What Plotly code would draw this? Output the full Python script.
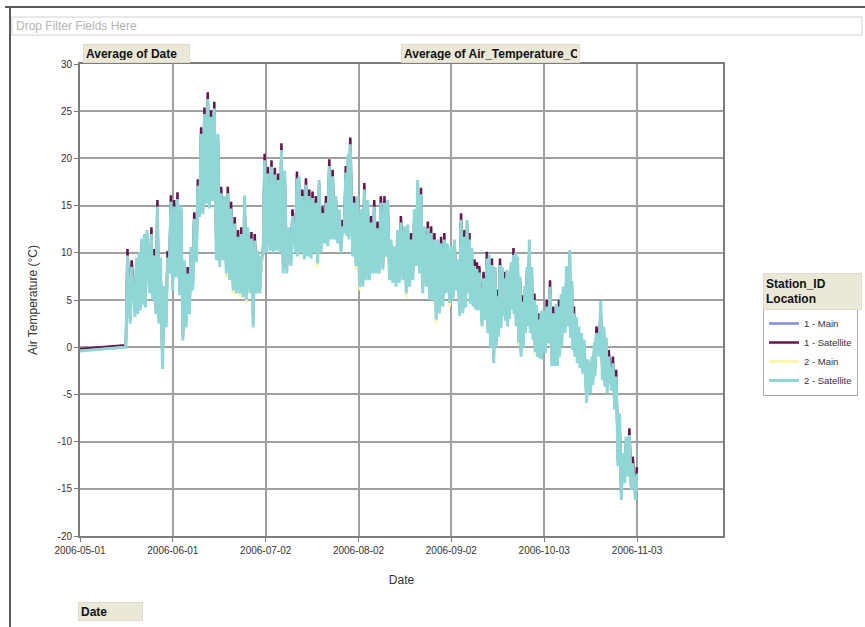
import pandas as pd
import plotly.graph_objects as go

# ---------------------------------------------------------------------------
# Air temperature, stations 1 and 2 (Main / Satellite), summer-autumn 2006.
# Each record holds the daily low and the daily high; records are placed by
# elapsed days since 2006-05-01.
# ---------------------------------------------------------------------------
START = pd.Timestamp("2006-05-01")

# single early reading on 2006-05-01 and the one just before logging resumed
lead_days = [0.0, 15.2]
lead_main1 = [-0.3, 0.0]
lead_sat1 = [-0.2, 0.2]
lead_main2 = [-0.4, 0.0]
lead_sat2 = [-0.4, 0.0]

elapsed_days = [
    15.6, 17.0, 18.6, 19.5, 20.4, 21.3, 22.1, 23.6, 24.5, 25.6,
    26.6, 27.8, 29.0, 30.1, 31.2, 32.3, 33.5, 34.6, 35.7, 36.8,
    37.9, 39.1, 40.2, 41.3, 42.4, 43.5, 44.6, 45.8, 46.9, 48.0,
    49.1, 50.2, 51.4, 52.5, 53.6, 54.7, 55.8, 57.0, 58.1, 59.2,
    60.3, 61.4, 62.5, 63.7, 64.8, 65.9, 67.0, 68.1, 69.3, 70.7,
    72.2, 72.9, 74.0, 75.2, 76.3, 77.4, 78.5, 79.6, 80.7, 81.9,
    83.0, 84.1, 85.2, 86.3, 87.4, 88.5, 89.3, 90.0, 91.3, 92.4,
    93.6, 94.7, 95.8, 96.9, 98.0, 99.1, 100.2, 101.4, 102.5, 103.6,
    104.7, 105.8, 106.9, 108.1, 109.2, 110.3, 111.4, 112.5, 113.6, 114.7,
    115.9, 117.0, 118.1, 119.2, 120.3, 121.4, 122.5, 123.7, 124.8, 125.9,
    127.0, 128.1, 129.0, 129.8, 130.6, 131.5, 132.3, 133.1, 134.5, 135.6,
    136.4, 137.3, 138.4, 139.2, 140.0, 140.8, 141.5, 142.3, 143.0, 143.7,
    144.5, 145.2, 145.9, 146.7, 147.5, 148.3, 149.0, 149.8, 150.6, 151.5,
    152.2, 153.0, 153.7, 154.4, 155.6, 156.7, 157.8, 158.8, 159.7, 160.4,
    161.1, 162.2, 163.3, 164.0, 164.7, 165.5, 166.3, 167.2, 168.1, 169.4,
    170.7, 171.5, 172.2, 173.6, 174.7, 175.5, 176.3, 177.7, 178.8, 179.9,
    181.0, 182.1, 183.2, 184.3, 185.7,
]

# 1 - Main
main1_hi = [
    9.4, 8.2, 8.5, 9.0, 10.5, 11.0, 11.4, 11.7, 9.4, 14.6,
    8.5, 5.5, 9.2, 15.1, 14.6, 15.4, 14.0, 8.2, 7.5, 9.6,
    13.3, 16.8, 22.3, 24.4, 26.0, 24.1, 25.0, 21.6, 16.0, 15.0,
    16.0, 14.4, 12.8, 11.4, 11.7, 15.1, 11.7, 11.2, 11.0, 9.2,
    8.5, 19.5, 18.1, 18.8, 18.0, 17.4, 20.6, 17.7, 11.7, 13.6,
    17.6, 17.1, 15.7, 16.9, 15.7, 15.5, 15.0, 16.7, 13.9, 15.0,
    18.9, 17.8, 15.0, 13.6, 12.5, 18.2, 19.5, 21.2, 15.0, 15.0,
    13.6, 16.4, 14.6, 12.9, 14.6, 12.3, 15.0, 15.0, 14.6, 10.4,
    9.7, 11.4, 12.9, 11.8, 12.0, 11.1, 13.6, 16.7, 15.9, 11.8,
    12.3, 11.8, 11.1, 10.4, 10.7, 11.1, 10.0, 9.7, 10.4, 8.3,
    13.2, 11.4, 12.5, 11.1, 9.5, 8.3, 8.0, 7.6, 7.0, 9.1,
    8.8, 8.4, 7.5, 5.1, 8.4, 7.5, 7.0, 7.2, 7.0, 8.0,
    9.5, 9.0, 8.6, 6.5, 4.5, 5.5, 7.5, 10.4, 7.5, 4.7,
    3.5, 2.6, 2.8, 3.0, 4.0, 6.1, 3.3, 3.6, 4.0, 4.6,
    5.4, 7.6, 9.3, 6.0, 3.3, 2.2, 1.2, 0.5, -0.2, -2.3,
    -2.0, -0.5, 1.2, 3.9, 1.2, 0.0, -1.3, -2.0, -3.4, -8.0,
    -12.2, -10.5, -9.6, -12.6, -13.7,
]
main1_lo = [
    1.0, 3.3, 4.0, 4.3, 4.7, 5.3, 5.0, 6.5, 5.8, 4.3,
    3.3, -1.5, 2.9, 8.6, 6.8, 8.2, 6.3, 1.5, 2.9, 4.3,
    6.8, 9.8, 14.6, 14.9, 16.0, 15.5, 16.3, 10.0, 9.3, 10.0,
    8.6, 7.9, 6.8, 6.5, 6.5, 6.1, 5.8, 6.5, 2.9, 6.5,
    6.5, 10.7, 10.8, 11.0, 10.8, 11.0, 10.8, 8.6, 8.6, 9.4,
    10.8, 10.4, 10.8, 10.1, 10.4, 10.2, 10.8, 9.7, 10.8, 11.8,
    11.5, 12.2, 12.2, 11.8, 10.8, 12.9, 12.6, 12.2, 10.4, 9.4,
    7.2, 7.2, 7.9, 7.9, 8.6, 8.6, 8.6, 9.0, 10.4, 7.9,
    7.6, 7.2, 7.6, 7.9, 6.5, 7.2, 7.9, 9.4, 8.6, 6.5,
    7.2, 5.8, 5.8, 3.7, 4.4, 5.1, 6.5, 5.5, 5.8, 6.8,
    4.1, 4.4, 5.0, 6.5, 5.4, 5.1, 4.8, 4.7, 3.0, 3.7,
    2.3, 0.8, -0.9, 0.8, 1.9, 2.8, 4.1, 3.6, 3.0, 3.8,
    4.8, 4.3, 3.0, 1.3, -0.2, 0.8, 2.3, 3.0, 2.3, 1.6,
    0.3, -0.2, -0.4, -0.5, 0.2, 1.2, -1.2, -1.2, -1.2, -0.2,
    0.9, 2.3, 3.0, 1.8, 0.5, -0.2, -0.9, -1.4, -2.0, -5.1,
    -4.1, -3.2, -2.3, -0.2, -2.7, -3.4, -4.1, -3.8, -5.8, -11.8,
    -15.4, -13.6, -12.9, -14.3, -15.4,
]

# 1 - Satellite
sat1_hi = [
    10.4, 9.2, 9.0, 9.5, 11.0, 11.5, 11.9, 12.7, 10.4, 15.6,
    9.0, 6.0, 10.2, 16.1, 15.6, 16.4, 14.5, 8.7, 8.5, 10.1,
    14.3, 17.8, 23.3, 25.4, 27.0, 25.1, 26.0, 22.1, 17.0, 15.5,
    17.0, 15.4, 13.8, 12.4, 12.7, 15.6, 12.2, 12.2, 12.0, 9.7,
    9.0, 20.5, 19.1, 19.8, 19.0, 18.4, 21.6, 18.2, 12.2, 14.6,
    18.6, 17.6, 16.7, 17.9, 16.7, 16.5, 16.0, 17.2, 14.9, 16.0,
    19.9, 18.8, 15.5, 14.1, 13.5, 19.2, 20.0, 22.2, 16.0, 15.5,
    14.1, 17.4, 15.1, 13.9, 15.6, 13.3, 16.0, 16.0, 15.1, 10.9,
    10.2, 11.9, 13.9, 12.3, 12.5, 12.1, 14.1, 17.2, 16.9, 12.3,
    13.3, 12.8, 12.1, 10.9, 11.7, 12.1, 10.5, 10.2, 10.9, 8.8,
    14.2, 12.4, 13.0, 12.1, 10.0, 9.3, 9.0, 8.6, 8.0, 10.1,
    9.3, 9.4, 8.0, 6.1, 9.4, 8.0, 8.0, 7.7, 7.5, 8.5,
    10.5, 9.5, 9.1, 7.0, 5.5, 6.0, 8.0, 10.9, 8.0, 5.7,
    4.0, 3.6, 3.3, 3.5, 5.0, 7.1, 4.3, 4.1, 5.0, 5.1,
    5.9, 8.1, 9.8, 6.5, 4.3, 2.7, 1.7, 1.0, 0.3, -1.8,
    -1.5, 0.0, 2.2, 4.4, 1.7, 0.5, -0.3, -1.0, -2.4, -7.5,
    -11.7, -10.0, -8.6, -11.6, -12.7,
]
sat1_lo = [
    0.7, 3.0, 3.7, 4.0, 4.4, 5.0, 4.7, 6.2, 5.5, 4.0,
    3.0, -1.8, 2.6, 8.3, 6.5, 7.9, 6.0, 1.2, 2.6, 4.0,
    6.5, 9.5, 14.3, 14.6, 15.7, 15.2, 16.0, 9.7, 9.0, 9.7,
    8.3, 7.6, 6.5, 6.2, 6.2, 5.8, 5.5, 6.2, 2.6, 6.2,
    6.2, 10.4, 10.5, 10.7, 10.5, 10.7, 10.5, 8.3, 8.3, 9.1,
    10.5, 10.1, 10.5, 9.8, 10.1, 9.9, 10.5, 9.4, 10.5, 11.5,
    11.2, 11.9, 11.9, 11.5, 10.5, 12.6, 12.3, 11.9, 10.1, 9.1,
    6.9, 6.9, 7.6, 7.6, 8.3, 8.3, 8.3, 8.7, 10.1, 7.6,
    7.3, 6.9, 7.3, 7.6, 6.2, 6.9, 7.6, 9.1, 8.3, 6.2,
    6.9, 5.5, 5.5, 3.4, 4.1, 4.8, 6.2, 5.2, 5.5, 6.5,
    3.8, 4.1, 4.7, 6.2, 5.1, 4.8, 4.5, 4.4, 2.7, 3.4,
    2.0, 0.5, -1.2, 0.5, 1.6, 2.5, 3.8, 3.3, 2.7, 3.5,
    4.5, 4.0, 2.7, 1.0, -0.5, 0.5, 2.0, 2.7, 2.0, 1.3,
    0.0, -0.5, -0.7, -0.8, -0.1, 0.9, -1.5, -1.5, -1.5, -0.5,
    0.6, 2.0, 2.7, 1.5, 0.2, -0.5, -1.2, -1.7, -2.3, -5.4,
    -4.4, -3.5, -2.6, -0.5, -3.0, -3.7, -4.4, -4.1, -6.1, -12.1,
    -15.7, -13.9, -13.2, -14.6, -15.7,
]

# 2 - Main
main2_hi = [
    8.9, 7.7, 8.0, 8.5, 10.0, 10.5, 10.9, 11.2, 8.9, 14.1,
    8.0, 5.0, 8.7, 14.6, 14.1, 14.9, 13.5, 7.7, 7.0, 9.1,
    12.8, 16.3, 21.8, 23.9, 25.5, 23.6, 24.5, 21.1, 15.5, 14.5,
    15.5, 13.9, 12.3, 10.9, 11.2, 14.6, 11.2, 10.7, 10.5, 8.7,
    8.0, 19.0, 17.6, 18.3, 17.5, 16.9, 20.1, 17.2, 11.2, 13.1,
    17.1, 16.6, 15.2, 16.4, 15.2, 15.0, 14.5, 16.2, 13.4, 14.5,
    18.4, 17.3, 14.5, 13.1, 12.0, 17.7, 19.0, 20.7, 14.5, 14.5,
    13.1, 15.9, 14.1, 12.4, 14.1, 11.8, 14.5, 14.5, 14.1, 9.9,
    9.2, 10.9, 12.4, 11.3, 11.5, 10.6, 13.1, 16.2, 15.4, 11.3,
    11.8, 11.3, 10.6, 9.9, 10.2, 10.6, 9.5, 9.2, 9.9, 7.8,
    12.7, 10.9, 12.0, 10.6, 9.0, 7.8, 7.5, 7.1, 6.5, 8.6,
    8.3, 7.9, 7.0, 4.6, 7.9, 7.0, 6.5, 6.7, 6.5, 7.5,
    9.0, 8.5, 8.1, 6.0, 4.0, 5.0, 7.0, 9.9, 7.0, 4.2,
    3.0, 2.1, 2.3, 2.5, 3.5, 5.6, 2.8, 3.1, 3.5, 4.1,
    4.9, 7.1, 8.8, 5.5, 2.8, 1.7, 0.7, 0.0, -0.7, -2.8,
    -2.5, -1.0, 0.7, 3.4, 0.7, -0.5, -1.8, -2.5, -3.9, -8.5,
    -12.7, -11.0, -10.1, -13.1, -14.2,
]
main2_lo = [
    0.8, 3.1, 3.8, 4.1, 4.5, 5.1, 4.8, 6.3, 5.6, 4.1,
    3.1, -1.7, 2.7, 8.4, 6.6, 8.0, 6.1, 1.3, 2.7, 4.1,
    6.6, 9.6, 14.4, 14.7, 15.8, 15.3, 16.1, 9.8, 9.1, 9.8,
    7.4, 7.7, 5.6, 6.3, 5.3, 5.9, 4.6, 6.3, 2.7, 6.3,
    6.3, 10.5, 10.6, 10.8, 10.6, 10.8, 10.6, 8.4, 8.4, 9.2,
    10.6, 10.2, 10.6, 9.9, 10.2, 10.0, 10.6, 8.5, 10.6, 11.6,
    11.3, 12.0, 12.0, 11.6, 10.6, 12.7, 12.4, 12.0, 10.2, 8.2,
    6.0, 7.0, 7.7, 7.7, 8.4, 8.4, 8.4, 8.8, 10.2, 7.7,
    7.4, 7.0, 7.4, 7.7, 5.3, 7.0, 7.7, 9.2, 8.4, 6.3,
    7.0, 5.6, 5.6, 2.5, 4.2, 4.9, 6.3, 4.3, 5.6, 6.6,
    3.9, 4.2, 4.8, 6.3, 5.2, 4.9, 4.6, 4.5, 2.8, 3.5,
    2.1, 0.6, -1.1, 0.6, 1.7, 2.6, 3.9, 3.4, 2.8, 3.6,
    4.6, 4.1, 2.8, 0.1, -0.4, 0.6, 2.1, 2.8, 2.1, 1.4,
    -0.9, -0.4, -0.6, -0.7, 0.0, 1.0, -1.4, -1.4, -1.4, -0.4,
    0.7, 2.1, 2.8, 1.6, 0.3, -0.4, -1.1, -1.6, -2.2, -5.3,
    -4.3, -3.4, -2.5, -0.4, -2.9, -3.6, -4.3, -4.0, -6.0, -12.0,
    -15.6, -13.8, -13.1, -14.5, -15.6,
]

# 2 - Satellite
sat2_hi = [
    9.7, 8.5, 9.5, 10.0, 11.5, 12.0, 12.4, 12.0, 9.7, 14.9,
    9.5, 6.5, 9.5, 15.4, 14.9, 15.7, 15.0, 9.2, 7.8, 10.6,
    13.6, 17.1, 22.6, 24.7, 26.3, 24.4, 25.3, 22.6, 16.3, 16.0,
    16.3, 14.7, 13.1, 11.7, 12.0, 16.1, 12.7, 11.5, 11.3, 10.2,
    9.5, 19.8, 18.4, 19.1, 18.3, 17.7, 20.9, 18.7, 12.7, 13.9,
    17.9, 18.1, 16.0, 17.2, 16.0, 15.8, 15.3, 17.7, 14.2, 15.3,
    19.2, 18.1, 16.0, 14.6, 12.8, 18.5, 20.5, 21.5, 15.3, 16.0,
    14.6, 16.7, 15.6, 13.2, 14.9, 12.6, 15.3, 15.3, 15.6, 11.4,
    10.7, 12.4, 13.2, 12.8, 13.0, 11.4, 14.6, 17.7, 16.2, 12.8,
    12.6, 12.1, 11.4, 11.4, 11.0, 11.4, 11.0, 10.7, 11.4, 9.3,
    13.5, 11.7, 13.5, 11.4, 10.5, 8.6, 8.3, 7.9, 7.3, 9.4,
    9.8, 8.7, 8.5, 5.4, 8.7, 8.5, 7.3, 8.2, 8.0, 9.0,
    9.8, 10.0, 9.6, 7.5, 4.8, 6.5, 8.5, 11.4, 8.5, 5.0,
    4.5, 2.9, 3.8, 4.0, 4.3, 6.4, 3.6, 4.6, 4.3, 5.6,
    6.4, 8.6, 10.3, 7.0, 3.6, 3.2, 2.2, 1.5, 0.8, -1.3,
    -1.0, 0.5, 1.5, 4.9, 2.2, 1.0, -1.0, -1.7, -3.1, -7.0,
    -11.2, -9.5, -9.3, -12.3, -13.4,
]
sat2_lo = [
    0.2, 2.5, 3.2, 3.5, 3.9, 4.5, 4.2, 5.7, 5.0, 3.5,
    2.5, -2.3, 2.1, 7.8, 6.0, 7.4, 5.5, 0.7, 2.1, 3.5,
    6.0, 9.0, 13.8, 14.1, 15.2, 14.7, 15.5, 9.2, 8.5, 9.2,
    7.8, 7.1, 6.0, 5.7, 5.7, 5.3, 5.0, 5.7, 2.1, 5.7,
    5.7, 9.9, 10.0, 10.2, 10.0, 10.2, 10.0, 7.8, 7.8, 8.6,
    10.0, 9.6, 10.0, 9.3, 9.6, 9.4, 10.0, 8.9, 10.0, 11.0,
    10.7, 11.4, 11.4, 11.0, 10.0, 12.1, 11.8, 11.4, 9.6, 8.6,
    6.4, 6.4, 7.1, 7.1, 7.8, 7.8, 7.8, 8.2, 9.6, 7.1,
    6.8, 6.4, 6.8, 7.1, 5.7, 6.4, 7.1, 8.6, 7.8, 5.7,
    6.4, 5.0, 5.0, 2.9, 3.6, 4.3, 5.7, 4.7, 5.0, 6.0,
    3.3, 3.6, 4.2, 5.7, 4.6, 4.3, 4.0, 3.9, 2.2, 2.9,
    1.5, 0.0, -1.7, 0.0, 1.1, 2.0, 3.3, 2.8, 2.2, 3.0,
    4.0, 3.5, 2.2, 0.5, -1.0, 0.0, 1.5, 2.2, 1.5, 0.8,
    -0.5, -1.0, -1.2, -1.3, -0.6, 0.4, -2.0, -2.0, -2.0, -1.0,
    0.1, 1.5, 2.2, 1.0, -0.3, -1.0, -1.7, -2.2, -2.8, -5.9,
    -4.9, -4.0, -3.1, -1.0, -3.5, -4.2, -4.9, -4.6, -6.6, -12.6,
    -16.2, -14.4, -13.7, -15.1, -16.2,
]

# value-axis ticks and their labels
y_ticks = [-20, -15, -10, -5, 0, 5, 10, 15, 20, 25, 30]
y_tick_labels = ["-20", "-15", "-10", "-5", "0", "5", "10", "15", "20", "25", "30"]

series = [
    ("1 - Main", lead_main1, main1_hi, main1_lo, "#8b8be8", 2.5),
    ("1 - Satellite", lead_sat1, sat1_hi, sat1_lo, "#65164c", 2.5),
    ("2 - Main", lead_main2, main2_hi, main2_lo, "#fff59a", 2.5),
    ("2 - Satellite", lead_sat2, sat2_hi, sat2_lo, "#8fd6d7", 3),
]


def diurnal_trace(lead, hi, lo):
    """Morning low and afternoon high for every record, in time order."""
    xs = [START + pd.Timedelta(days=d) for d in lead_days]
    ys = list(lead)
    for d, h, l in zip(elapsed_days, hi, lo):
        xs.append(START + pd.Timedelta(days=d - 0.25))
        ys.append(l)
        xs.append(START + pd.Timedelta(days=d + 0.25))
        ys.append(h)
    return xs, ys


fig = go.Figure()
for name, lead, hi, lo, color, width in series:
    xs, ys = diurnal_trace(lead, hi, lo)
    fig.add_trace(go.Scatter(x=xs, y=ys, mode="lines", name=name,
                             line=dict(color=color, width=width)))

# page geometry (pixels)
W, H = 865, 627
PL, PR, PT, PB = 80, 723, 64, 536


def px(x):
    return (x - PL) / (PR - PL)


def py(y):
    return (PB - y) / (PB - PT)


FONT = "Arial, Liberation Sans, sans-serif"
GRID = "#a0a0a0"
AXIS = "#7c7c7c"

fig.update_layout(
    width=W, height=H,
    margin=dict(l=PL, r=W - PR, t=PT, b=H - PB, pad=0, autoexpand=False),
    paper_bgcolor="white", plot_bgcolor="white",
    font=dict(family=FONT, color="#333333", size=10),
    showlegend=True,
    legend=dict(xref="container", yref="container",
                x=763 / W, y=1 - 308 / H, xanchor="left", yanchor="top",
                bgcolor="white", bordercolor="#a8a8a8", borderwidth=1,
                font=dict(size=9.5, color="#333333"), traceorder="normal",
                itemwidth=30, entrywidth=68, entrywidthmode="pixels"),
)

fig.update_xaxes(
    type="date", range=["2006-05-01", "2006-12-01 17:00"],
    tick0="2006-05-01", dtick=31 * 86400000, tickformat="%Y-%m-%d",
    ticks="outside", ticklen=4, tickcolor=AXIS,
    tickfont=dict(size=10, color="#333333"),
    showgrid=True, gridcolor=GRID, gridwidth=1.5,
    showline=True, linecolor=AXIS, linewidth=2, mirror=True,
    zeroline=False,
    title=dict(text="Date", font=dict(size=12, color="#333333"), standoff=21),
)
fig.update_yaxes(
    range=[-20, 30], tickmode="array", tickvals=y_ticks, ticktext=y_tick_labels,
    ticks="outside", ticklen=4, tickcolor=AXIS,
    tickfont=dict(size=10, color="#333333"),
    showgrid=True, gridcolor=GRID, gridwidth=1.5,
    showline=True, linecolor=AXIS, linewidth=2, mirror=True,
    zeroline=False,
    title=dict(text="Air Temperature (°C)", font=dict(size=12, color="#333333"),
               standoff=17),
)

# window frame and the filter drop zone
shapes = [
    dict(type="line", xref="paper", yref="paper", x0=px(5), x1=px(865),
         y0=py(7), y1=py(7), line=dict(color="#5a5a5a", width=2)),
    dict(type="line", xref="paper", yref="paper", x0=px(10), x1=px(10),
         y0=py(7), y1=py(627), line=dict(color="#5a5a5a", width=2)),
    dict(type="rect", xref="paper", yref="paper", x0=px(12), x1=px(862),
         y0=py(17), y1=py(35), line=dict(color="#d2d2d2", width=1),
         fillcolor="white"),
]
fig.update_layout(shapes=shapes)

BTN_BG = "#ebe8d8"
BTN_EDGE = "#dedbcb"


def field_button(text, x0, x1, y0, y1):
    return dict(text=text, xref="paper", yref="paper", x=px(x0), y=py(y0),
                xanchor="left", yanchor="top", showarrow=False, align="left",
                valign="middle",
                width=x1 - x0 - 6, height=y1 - y0 - 6, borderpad=2,
                bgcolor=BTN_BG, bordercolor=BTN_EDGE, borderwidth=1,
                font=dict(family=FONT, size=12, color="#111111"))


annotations = [
    dict(text="Drop Filter Fields Here", xref="paper", yref="paper",
         x=px(14), y=py(26), xanchor="left", yanchor="middle", showarrow=False,
         font=dict(family=FONT, size=12, color="#b4b4b4")),
    field_button("<b>Average of Date</b>", 83, 190, 44, 63),
    field_button("<b>Average of Air_Temperature_C</b>", 401, 580, 44, 63),
    field_button("<b>Station_ID<br>Location</b>", 763, 862, 273, 310),
    field_button("<b>Date</b>", 78, 143, 602, 621),
]
fig.update_layout(annotations=annotations)

fig.write_html("out.html")
